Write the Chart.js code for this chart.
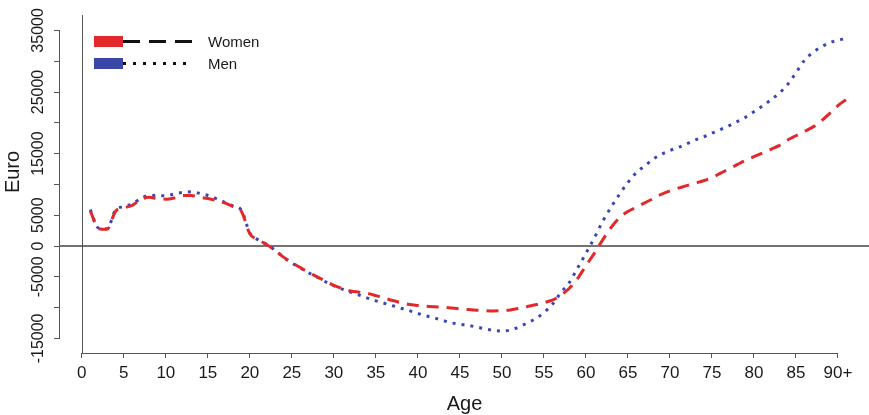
<!DOCTYPE html>
<html>
<head>
<meta charset="utf-8">
<script src="https://cdn.jsdelivr.net/npm/chart.js@4/dist/chart.umd.min.js"></script>
<style>
html,body{margin:0;padding:0;background:#fff;}
#wrap{width:869px;height:415px;position:relative;}
</style>
</head>
<body>
<div id="wrap"><canvas id="c" width="869" height="415"></canvas></div>
<script>
// ---- data ----
const ages = [1,2,3,4,5,6,7,8,9,10,11,12,13,14,15,16,17,18,19,20,
  21,22,23,24,25,26,27,28,29,30,31,32,33,34,35,36,37,38,39,40,
  41,42,43,44,45,46,47,48,49,50,51,52,53,54,55,56,57,58,59,60,
  61,62,63,64,65,66,67,68,69,70,71,72,73,74,75,76,77,78,79,80,
  81,82,83,84,85,86,87,88,89,90,91];

const women = [5700,2800,2700,5600,6200,6600,7500,7900,7700,7600,
  7800,8200,8200,7900,7700,7400,7000,6400,5600,2000,
  1000,250,-700,-1800,-2700,-3500,-4300,-5000,-5700,-6400,
  -6900,-7300,-7500,-7700,-8050,-8450,-8850,-9200,-9500,-9650,
  -9780,-9870,-9950,-10080,-10200,-10320,-10420,-10500,-10540,-10500,
  -10380,-10150,-9850,-9550,-9200,-8800,-8000,-6900,-5300,-3200,
  -1200,1000,3000,4600,5600,6300,7000,7700,8400,8950,
  9400,9800,10200,10600,11100,11800,12500,13200,13900,14500,
  15100,15700,16300,17200,17900,18600,19300,20300,21500,22800,23800];

const men = [5900,2900,2800,5800,6400,6800,7700,8200,8200,8150,
  8450,8700,8800,8550,8200,7700,7100,6500,5800,2100,
  1000,250,-700,-1800,-2750,-3550,-4350,-5050,-5800,-6450,
  -7000,-7500,-7950,-8450,-8900,-9300,-9700,-10100,-10500,-10950,
  -11350,-11680,-12100,-12480,-12700,-12900,-13150,-13450,-13700,-13800,
  -13650,-13150,-12500,-11800,-10800,-9500,-7600,-6000,-3600,-1200,
  1300,4000,6300,8400,10300,11900,13000,14100,14900,15500,
  16000,16600,17200,17700,18300,18900,19500,20200,20900,21800,
  22700,23700,24800,26200,28100,30100,31400,32300,33000,33400,33700];

const xTicks = [0,5,10,15,20,25,30,35,40,45,50,55,60,65,70,75,80,85,90];
const xTickLabels = ['0','5','10','15','20','25','30','35','40','45','50','55','60','65','70','75','80','85','90+'];
const yTicks = [-15000,-10000,-5000,0,5000,10000,15000,20000,25000,30000,35000];
const yTickLabels = ['-15000','','-5000','0','5000','','15000','','25000','','35000'];

const seriesNames = ['Women','Men'];
const xTitle = 'Age';
const yTitle = 'Euro';

// ---- styling ----
const RED = '#e3282b';
const BLUE = '#3b46b6';
const AXIS = '#555555';
const TXT = '#1a1a1a';
Chart.defaults.font.family = "'Liberation Sans', Arial, Helvetica, sans-serif";

const rPlot = {
  id: 'rPlot',
  beforeDatasetsDraw(chart) {
    const {ctx, chartArea: a, scales: {x, y}} = chart;
    ctx.save();
    ctx.strokeStyle = AXIS;
    ctx.lineWidth = 1;
    // x axis segment (0..90)
    ctx.beginPath();
    ctx.moveTo(x.getPixelForValue(xTicks[0]), a.bottom + 0.5);
    ctx.lineTo(x.getPixelForValue(xTicks[xTicks.length - 1]), a.bottom + 0.5);
    ctx.stroke();
    // y axis segment (-15000..35000)
    ctx.beginPath();
    ctx.moveTo(a.left - 0.5, y.getPixelForValue(yTicks[0]));
    ctx.lineTo(a.left - 0.5, y.getPixelForValue(yTicks[yTicks.length - 1]));
    ctx.stroke();
    // vertical reference line at age 0
    const x0 = Math.round(x.getPixelForValue(0)) + 0.5;
    ctx.beginPath();
    ctx.moveTo(x0, a.top);
    ctx.lineTo(x0, a.bottom);
    ctx.stroke();
    // horizontal reference line at 0
    ctx.strokeStyle = '#444';
    ctx.lineWidth = 1.3;
    const y0 = y.getPixelForValue(0);
    ctx.beginPath();
    ctx.moveTo(a.left, y0);
    ctx.lineTo(a.right, y0);
    ctx.stroke();
    ctx.restore();
  },
  afterDraw(chart) {
    const {ctx} = chart;
    ctx.save();
    // y title
    ctx.fillStyle = TXT;
    ctx.font = "20px 'Liberation Sans', Arial, sans-serif";
    ctx.translate(13, 172);
    ctx.rotate(-Math.PI / 2);
    ctx.textAlign = 'center';
    ctx.textBaseline = 'middle';
    ctx.fillText(yTitle, 0, 0);
    ctx.restore();

    // legend
    ctx.save();
    const rows = [
      {name: seriesNames[0], color: RED, dash: [17, 9], y: 41.5, end: 198},
      {name: seriesNames[1], color: '#3a47a8', dash: [3, 7], y: 63.5, end: 192}
    ];
    rows.forEach(r => {
      ctx.fillStyle = r.color;
      ctx.fillRect(94, r.y - 5.5, 29, 11);
      ctx.strokeStyle = '#111';
      ctx.lineWidth = 3;
      ctx.setLineDash(r.dash);
      ctx.beginPath();
      ctx.moveTo(123, r.y);
      ctx.lineTo(r.end, r.y);
      ctx.stroke();
      ctx.setLineDash([]);
      ctx.fillStyle = TXT;
      ctx.font = "15px 'Liberation Sans', Arial, sans-serif";
      ctx.textAlign = 'left';
      ctx.textBaseline = 'middle';
      ctx.fillText(r.name, 208, r.y + 1);
    });
    ctx.restore();
  }
};

new Chart(document.getElementById('c'), {
  type: 'line',
  data: {
    datasets: [
      {
        label: seriesNames[0],
        data: ages.map((a, i) => ({x: a, y: women[i]})),
        borderColor: RED,
        borderWidth: 3,
        borderDash: [12, 8],
        pointRadius: 0,
        cubicInterpolationMode: 'monotone',
        fill: false
      },
      {
        label: seriesNames[1],
        data: ages.map((a, i) => ({x: a, y: men[i]})),
        borderColor: BLUE,
        borderWidth: 3,
        borderDash: [3, 6],
        pointRadius: 0,
        cubicInterpolationMode: 'monotone',
        fill: false
      }
    ]
  },
  options: {
    responsive: false,
    animation: false,
    devicePixelRatio: 1,
    layout: {padding: {top: 15, right: 0, left: 0, bottom: 0}},
    plugins: {legend: {display: false}, tooltip: {enabled: false}},
    scales: {
      x: {
        type: 'linear',
        min: -2.6,
        max: 93.7,
        afterBuildTicks: s => { s.ticks = xTicks.map(v => ({value: v})); },
        afterFit: s => { s.height = 62; },
        border: {display: false},
        grid: {display: true, drawOnChartArea: false, drawTicks: true, tickLength: 5, color: AXIS},
        ticks: {
          autoSkip: false, maxRotation: 0, minRotation: 0, padding: 5,
          color: TXT, font: {size: 17},
          callback: v => { const i = xTicks.indexOf(v); return i >= 0 ? xTickLabels[i] : ''; }
        },
        title: {display: true, text: xTitle, color: TXT, font: {size: 20, lineHeight: 1}, padding: {top: 0, bottom: 1}}
      },
      y: {
        type: 'linear',
        min: -17370,
        max: 37500,
        afterBuildTicks: s => { s.ticks = yTicks.map(v => ({value: v})); },
        afterFit: s => { s.width = 60; },
        border: {display: false},
        grid: {display: true, drawOnChartArea: false, drawTicks: true, tickLength: 6, color: AXIS},
        ticks: {
          autoSkip: false, minRotation: 90, maxRotation: 90, crossAlign: 'center', padding: -9.4,
          color: TXT, font: {size: 16},
          callback: v => { const i = yTicks.indexOf(v); return i >= 0 ? yTickLabels[i] : ''; }
        },
        title: {display: false}
      }
    }
  },
  plugins: [rPlot]
});
</script>
</body>
</html>
